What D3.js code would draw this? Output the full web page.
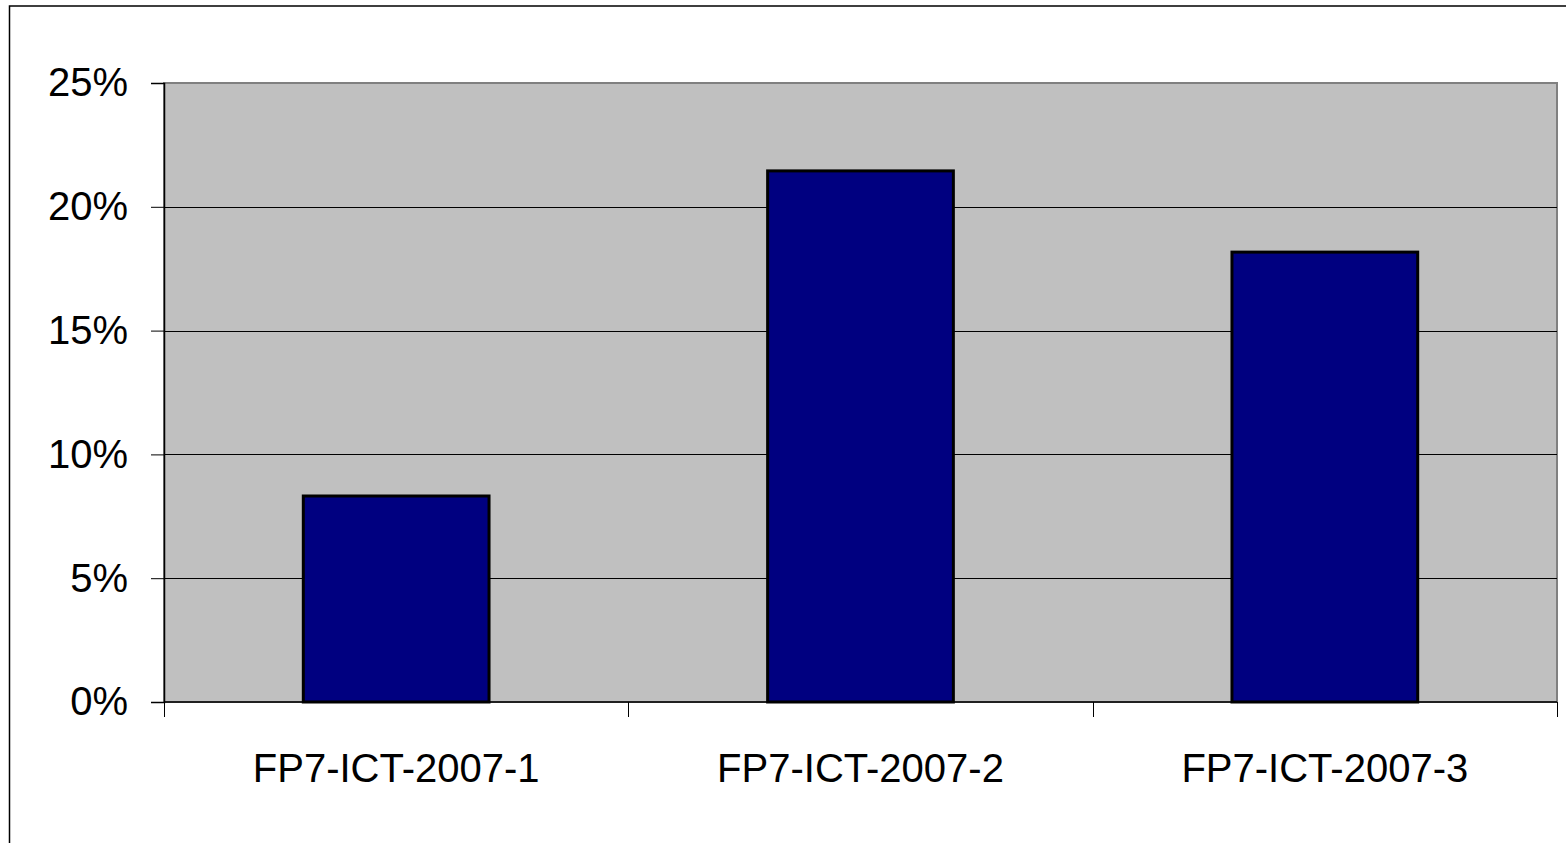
<!DOCTYPE html>
<html>
<head>
<meta charset="utf-8">
<script src="https://cdn.jsdelivr.net/npm/d3@7"></script>
<style>
  body { margin: 0; background: #fff; }
  svg { display: block; font-family: "Liberation Sans", Arial, sans-serif; }
</style>
</head>
<body>
<script>
const WIDTH = 1566
const HEIGHT = 843

const categories = ['FP7-ICT-2007-1', 'FP7-ICT-2007-2', 'FP7-ICT-2007-3']
const values = [0.0832, 0.2145, 0.1817]
const yTicks = [0, 0.05, 0.10, 0.15, 0.20, 0.25]

const PLOT = { left: 164, top: 83, right: 1557, bottom: 702 }

const svg = d3.select('body')
    .append('svg')
    .attr('width', WIDTH)
    .attr('height', HEIGHT)

// outer chart frame (cropped at the right and bottom)
svg.append('rect')
    .attr('x', 9.5)
    .attr('y', 6)
    .attr('width', WIDTH + 20)
    .attr('height', HEIGHT + 20)
    .attr('fill', '#fff')
    .attr('stroke', '#000')
    .attr('stroke-width', 1.5)

const x = d3.scaleBand()
    .domain(categories)
    .range([PLOT.left, PLOT.right])
    .paddingInner(0.6)
    .paddingOuter(0.3)

const y = d3.scaleLinear()
    .domain([0, 0.25])
    .range([PLOT.bottom, PLOT.top])

// plot area
svg.append('rect')
    .attr('x', PLOT.left)
    .attr('y', PLOT.top)
    .attr('width', PLOT.right - PLOT.left)
    .attr('height', PLOT.bottom - PLOT.top)
    .attr('fill', '#c0c0c0')
    .attr('stroke', '#808080')
    .attr('stroke-width', 2)

// gridlines
svg.append('g')
    .selectAll('line')
    .data(yTicks.filter(d => d > 0 && d < 0.25))
    .enter()
    .append('line')
    .attr('x1', PLOT.left)
    .attr('x2', PLOT.right)
    .attr('y1', d => Math.round(y(d)) + 0.5)
    .attr('y2', d => Math.round(y(d)) + 0.5)
    .attr('stroke', '#000')
    .attr('stroke-width', 1)

// bars
svg.append('g')
    .selectAll('rect')
    .data(values)
    .enter()
    .append('rect')
    .attr('x', (d, i) => x(categories[i]))
    .attr('width', x.bandwidth())
    .attr('y', d => y(d))
    .attr('height', d => PLOT.bottom - y(d))
    .attr('fill', '#000080')
    .attr('stroke', '#000')
    .attr('stroke-width', 3)

// y axis
const yAxis = d3.axisLeft(y)
    .tickValues(yTicks)
    .tickSize(13)
    .tickPadding(23)
    .tickFormat(d3.format('.0%'))

const gy = svg.append('g')
    .attr('transform', `translate(${PLOT.left}, 0)`)
    .call(yAxis)
gy.select('.domain').attr('stroke', '#000').attr('stroke-width', 1.5)
gy.selectAll('.tick line').attr('stroke', '#000')
gy.selectAll('.tick text')
    .attr('font-size', 40)
    .attr('font-family', '"Liberation Sans", Arial, sans-serif')
    .attr('fill', '#000')

// x axis: ticks at category boundaries
const xBounds = d3.range(categories.length + 1)
    .map(i => PLOT.left + i * x.step())

svg.append('line')
    .attr('x1', PLOT.left)
    .attr('x2', PLOT.right)
    .attr('y1', PLOT.bottom)
    .attr('y2', PLOT.bottom)
    .attr('stroke', '#000')
    .attr('stroke-width', 1.5)

svg.append('g')
    .selectAll('line')
    .data(xBounds)
    .enter()
    .append('line')
    .attr('x1', d => Math.round(d) + 0.5)
    .attr('x2', d => Math.round(d) + 0.5)
    .attr('y1', PLOT.bottom)
    .attr('y2', PLOT.bottom + 15)
    .attr('stroke', '#000')

svg.append('g')
    .selectAll('text')
    .data(categories)
    .enter()
    .append('text')
    .text(d => d)
    .attr('x', d => x(d) + x.bandwidth() / 2)
    .attr('y', 782)
    .attr('text-anchor', 'middle')
    .attr('font-size', 40)
    .attr('fill', '#000')
</script>
</body>
</html>
